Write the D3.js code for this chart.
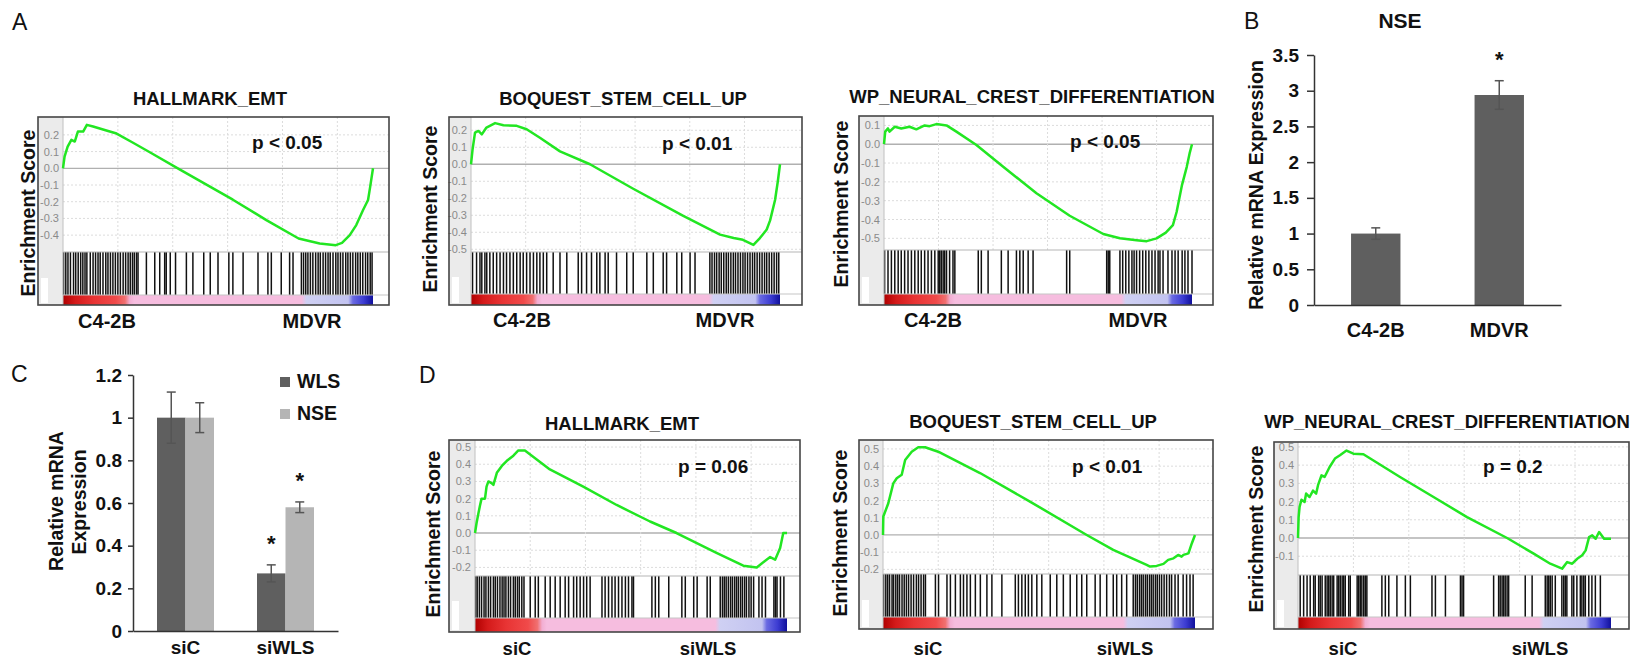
<!DOCTYPE html>
<html lang="en">
<head>
<meta charset="utf-8">
<title>GSEA and qPCR panels</title>
<script src="https://d3js.org/d3.v7.min.js"></script>
<style>
  body { margin: 0; background: #fff; }
  text { font-family: "Liberation Sans", Arial, sans-serif; }
</style>
</head>
<body>
<script>
var w = 1645, h = 665;

// ---------- GSEA data: [rank (per mille of ranked list), running ES] ----------
var gseaTitles = ["HALLMARK_EMT", "BOQUEST_STEM_CELL_UP", "WP_NEURAL_CREST_DIFFERENTIATION",
                  "HALLMARK_EMT", "BOQUEST_STEM_CELL_UP", "WP_NEURAL_CREST_DIFFERENTIATION"];
var gseaPvals = ["p < 0.05", "p < 0.01", "p < 0.05", "p = 0.06", "p < 0.01", "p = 0.2"];
var gseaGroups = [["C4-2B", "MDVR"], ["C4-2B", "MDVR"], ["C4-2B", "MDVR"],
                  ["siC", "siWLS"], ["siC", "siWLS"], ["siC", "siWLS"]];

var esA1 = [[0,0],[5,0.07],[15,0.13],[27,0.17],[38,0.16],[48,0.22],[65,0.22],[77,0.26],[97,0.25],[140,0.226],[170,0.21],[226,0.153],[280,0.096],[376,-0.006],[548,-0.188],[656,-0.31],[760,-0.42],[828,-0.45],[880,-0.46],[900,-0.446],[925,-0.40],[946,-0.34],[968,-0.25],[984,-0.19],[991,-0.11],[1000,0]];
var esA2 = [[0,0],[5,0.086],[13,0.186],[24,0.196],[35,0.176],[50,0.216],[78,0.242],[105,0.23],[148,0.226],[180,0.206],[223,0.156],[288,0.076],[385,0],[525,-0.144],[687,-0.304],[806,-0.414],[850,-0.434],[880,-0.444],[914,-0.474],[935,-0.434],[957,-0.384],[968,-0.33],[984,-0.21],[993,-0.1],[1000,0]];
var esA3 = [[0,0],[4,0.067],[13,0.084],[18,0.067],[35,0.093],[56,0.084],[83,0.093],[105,0.079],[132,0.10],[148,0.096],[170,0.107],[203,0.10],[235,0.067],[300,-0.004],[387,-0.12],[495,-0.26],[603,-0.38],[712,-0.477],[766,-0.50],[820,-0.51],[853,-0.515],[885,-0.50],[915,-0.47],[938,-0.43],[950,-0.36],[967,-0.22],[983,-0.12],[992,-0.05],[1000,0]];
var esD1 = [[0,0],[5,0.058],[11,0.115],[16,0.16],[21,0.2],[32,0.2],[37,0.27],[43,0.30],[53,0.29],[59,0.28],[70,0.35],[86,0.39],[102,0.42],[123,0.45],[139,0.48],[160,0.48],[240,0.37],[347,0.27],[454,0.163],[561,0.067],[646,0],[774,-0.115],[860,-0.19],[903,-0.2],[924,-0.17],[946,-0.14],[962,-0.155],[978,-0.087],[988,0],[1000,0]];
var esD2 = [[0,0],[1,0.107],[17,0.184],[33,0.30],[44,0.33],[60,0.35],[71,0.436],[92,0.484],[113,0.51],[135,0.51],[177,0.484],[311,0.36],[471,0.194],[653,0],[738,-0.087],[845,-0.174],[856,-0.184],[877,-0.18],[899,-0.168],[914,-0.145],[931,-0.136],[946,-0.116],[957,-0.126],[963,-0.116],[979,-0.107],[990,-0.048],[1000,0]];
var esD3 = [[0,0],[2,0.115],[5,0.17],[11,0.21],[21,0.198],[26,0.244],[37,0.225],[48,0.26],[58,0.244],[64,0.29],[75,0.344],[85,0.335],[101,0.39],[118,0.436],[134,0.454],[155,0.48],[177,0.463],[209,0.46],[326,0.335],[433,0.225],[540,0.115],[668,0],[753,-0.086],[806,-0.141],[844,-0.168],[860,-0.132],[876,-0.141],[892,-0.114],[908,-0.095],[919,-0.068],[930,0.005],[940,0.015],[951,-0.004],[962,0.033],[978,-0.004],[1000,-0.004]];

// gene-set hit positions (rank, per mille)
var hitsA1 = [2,9,16,24,34,41,49,57,64,71,77,88,97,105,113,120,129,138,145,153,161,169,177,185,194,202,210,217,224,230,237,242,269,296,312,328,333,346,363,398,419,454,475,500,535,548,581,629,661,672,704,731,742,769,776,783,790,798,806,815,823,830,839,847,855,862,871,880,887,895,903,912,919,927,935,944,951,959,967,976,983,991,997];
var hitsA2 = [5,18,29,35,45,51,61,72,83,94,105,115,126,137,148,159,169,180,191,202,213,223,234,245,266,288,310,347,358,374,390,407,417,434,444,471,504,525,569,590,622,633,666,682,709,725,773,780,788,795,803,810,818,826,833,841,849,856,864,872,880,887,895,903,911,918,926,934,942,950,957,965,973,981,989,996];
var hitsA3 = [2,13,24,35,46,56,67,78,89,100,111,121,132,143,154,165,176,181,186,192,197,203,213,224,230,306,316,338,381,403,430,441,452,468,484,593,603,723,728,733,766,775,785,795,805,812,820,830,840,850,860,870,880,890,896,906,922,935,945,955,968,977,987,1000];
var hitsD1 = [2,7,14,21,29,35,43,50,59,65,72,80,87,93,99,107,114,123,129,136,142,150,157,177,193,203,225,241,257,273,289,300,316,326,337,348,358,369,407,417,428,439,449,460,471,482,492,503,508,567,578,589,621,663,674,701,712,744,754,786,793,799,805,812,819,825,832,838,844,851,857,864,870,878,885,893,910,920,931,958,963,968,979,990];
var hitsD2 = [2,9,15,21,29,34,41,47,53,61,68,75,82,90,98,107,114,122,130,136,168,178,205,216,232,248,258,269,280,296,312,333,349,381,424,434,445,456,466,477,493,509,536,557,578,600,621,637,653,680,696,717,738,749,765,781,802,809,815,822,828,834,841,847,854,860,866,873,879,886,893,901,909,918,925,936,946,962,973,984,994];
var hitsD3 = [7,18,29,39,50,55,66,71,77,87,93,98,103,109,114,125,130,135,141,146,151,162,167,189,194,199,204,210,215,220,268,279,290,316,343,359,428,439,471,519,524,529,625,641,646,652,657,662,668,673,726,748,790,796,801,806,812,822,843,849,854,859,875,881,891,902,907,913,918,929,939,950,966];

// y tick labels of each GSEA panel
var ticksA1 = [0.2, 0.1, 0, -0.1, -0.2, -0.3, -0.4];
var ticksA2 = [0.2, 0.1, 0, -0.1, -0.2, -0.3, -0.4, -0.5];
var ticksA3 = [0.1, 0, -0.1, -0.2, -0.3, -0.4, -0.5];
var ticksD1 = [0.5, 0.4, 0.3, 0.2, 0.1, 0, -0.1, -0.2];
var ticksD2 = [0.5, 0.4, 0.3, 0.2, 0.1, 0, -0.1, -0.2];
var ticksD3 = [0.5, 0.4, 0.3, 0.2, 0.1, 0, -0.1];
var gridRanks = [177, 354, 531, 708, 885];

// ---------- panel B: NSE qPCR ----------
var nseCats = ["C4-2B", "MDVR"];
var nseMeans = [1.0, 2.94];
var nseErrs = [0.08, 0.2];
var nseSig = ["", "*"];
var nseTicks = [0, 0.5, 1, 1.5, 2, 2.5, 3, 3.5];

// ---------- panel C: siWLS knockdown ----------
var kdGroups = ["siC", "siWLS"];
var kdSeries = ["WLS", "NSE"];
var kdWlsMeans = [1.0, 0.27];
var kdWlsErrs = [0.12, 0.04];
var kdNseMeans = [1.0, 0.58];
var kdNseErrs = [0.07, 0.025];
var kdWlsSig = ["", "*"];
var kdNseSig = ["", "*"];
var kdTicks = [0, 0.2, 0.4, 0.6, 0.8, 1, 1.2];
var kdColors = ["#5f5f5f", "#b5b5b5"];

// ---------- layout ----------
var gseaLayout = [
  {left:38,  top:117, right:389,  bottom:305, inner:63,   end:373,  hitTop:252, cbTop:295, ymin:-0.501, ymax:0.307, tx:210,  ty:105, px:252,  py:149, lx:35,   ly:213, gy:328, g1:107,  g2:312},
  {left:449, top:117, right:802,  bottom:305, inner:471,  end:780,  hitTop:252, cbTop:294, ymin:-0.516, ymax:0.278, tx:623,  ty:105, px:662,  py:150, lx:437,  ly:209, gy:327, g1:522,  g2:725},
  {left:859, top:116, right:1213, bottom:305, inner:884,  end:1192, hitTop:250, cbTop:294, ymin:-0.562, ymax:0.150, tx:1032, ty:103, px:1070, py:148, lx:848,  ly:204, gy:327, g1:933,  g2:1138},
  {left:449, top:440, right:800,  bottom:632, inner:475,  end:787,  hitTop:576, cbTop:618, ymin:-0.250, ymax:0.541, tx:622,  ty:430, px:678,  py:473, lx:440,  ly:534, gy:655, g1:517,  g2:708},
  {left:859, top:440, right:1213, bottom:629, inner:883,  end:1195, hitTop:574, cbTop:617, ymin:-0.227, ymax:0.552, tx:1033, ty:428, px:1072, py:473, lx:847,  ly:533, gy:655, g1:928,  g2:1125},
  {left:1274,top:442, right:1629, bottom:629, inner:1298, end:1611, hitTop:575, cbTop:617, ymin:-0.203, ymax:0.527, tx:1447, ty:428, px:1483, py:473, lx:1263, ly:529, gy:655, g1:1343, g2:1540}
];

var svg = d3.select("body").append("svg")
  .attr("width", w)
  .attr("height", h);

// ranked-list colour bar
var grad = svg.append("defs").append("linearGradient").attr("id", "rankbar");
var gradStops = [[0,"#b00000"],[0.04,"#d41a1a"],[0.1,"#e83434"],[0.17,"#f04a4a"],[0.2,"#f07070"],[0.215,"#f2aed2"],[0.23,"#f6bddf"],
                 [0.77,"#f6bddf"],[0.785,"#cfd0f3"],[0.92,"#c2c3f0"],[0.935,"#6a6ae2"],[0.97,"#3c3cd2"],[1,"#10109c"]];
grad.selectAll("stop").data(gradStops).enter().append("stop")
  .attr("offset", function(d) { return d[0]; })
  .attr("stop-color", function(d) { return d[1]; });

function drawGsea(i, curve, hits, ticks) {
  var L = gseaLayout[i];
  var g = svg.append("g");
  var x = d3.scaleLinear().domain([0, 1000]).range([L.inner, L.end]);
  var y = d3.scaleLinear().domain([L.ymin, L.ymax]).range([L.hitTop, L.top]);

  g.append("rect").attr("x", L.left).attr("y", L.top)
    .attr("width", L.right - L.left).attr("height", L.bottom - L.top).attr("fill", "#fff");
  // grey strip at left
  g.append("rect").attr("x", L.left).attr("y", L.top)
    .attr("width", L.inner - L.left).attr("height", L.bottom - L.top).attr("fill", "#ebebeb");
  g.append("rect").attr("x", L.left + 3).attr("y", L.cbTop - 17)
    .attr("width", 7).attr("height", L.bottom - L.cbTop + 15).attr("fill", "#fff");

  // grid
  g.selectAll(".hg").data(ticks).enter().append("line")
    .attr("x1", L.inner).attr("x2", L.right)
    .attr("y1", function(d) { return y(d); }).attr("y2", function(d) { return y(d); })
    .attr("stroke", function(d) { return d === 0 ? "#b0b0b0" : "#dcdcdc"; })
    .attr("stroke-width", function(d) { return d === 0 ? 1.3 : 1; })
    .attr("stroke-dasharray", function(d) { return d === 0 ? null : "2,2"; });
  g.selectAll(".vg").data(gridRanks).enter().append("line")
    .attr("x1", function(d) { return x(d); }).attr("x2", function(d) { return x(d); })
    .attr("y1", L.top).attr("y2", L.hitTop)
    .attr("stroke", "#dcdcdc").attr("stroke-dasharray", "2,2");

  // axis labels of ES
  var ax = g.append("g").attr("transform", "translate(" + L.inner + ",0)")
    .call(d3.axisLeft(y).tickValues(ticks).tickSize(0).tickPadding(4)
      .tickFormat(function(d) { return d.toFixed(1); }));
  ax.select(".domain").remove();
  ax.selectAll("text").attr("fill", "#8a8a8a").attr("font-size", 11)
    .style("font-family", "'Liberation Sans', Arial, sans-serif");

  // hits
  g.selectAll(".hit").data(hits).enter().append("line")
    .attr("x1", function(d) { return x(d); }).attr("x2", function(d) { return x(d); })
    .attr("y1", L.hitTop).attr("y2", L.cbTop)
    .attr("stroke", "#111").attr("stroke-width", 1.5);

  // colour bar
  g.append("rect").attr("x", x(0)).attr("y", L.cbTop)
    .attr("width", x(1000) - x(0)).attr("height", L.bottom - L.cbTop)
    .attr("fill", "url(#rankbar)");

  g.append("line").attr("x1", L.inner).attr("x2", L.right).attr("y1", L.hitTop).attr("y2", L.hitTop)
    .attr("stroke", "#b5b5b5");
  g.append("line").attr("x1", L.inner).attr("x2", L.right).attr("y1", L.cbTop).attr("y2", L.cbTop)
    .attr("stroke", "#c5c5c5");
  g.append("line").attr("x1", L.inner).attr("x2", L.inner).attr("y1", L.top).attr("y2", L.bottom)
    .attr("stroke", "#c0c0c0");

  // running enrichment score
  g.append("path").datum(curve)
    .attr("d", d3.line().x(function(d) { return x(d[0]); }).y(function(d) { return y(d[1]); }))
    .attr("fill", "none").attr("stroke", "#22e622").attr("stroke-width", 2.5)
    .attr("stroke-linejoin", "round");

  g.append("rect").attr("x", L.left).attr("y", L.top)
    .attr("width", L.right - L.left).attr("height", L.bottom - L.top)
    .attr("fill", "none").attr("stroke", "#454545").attr("stroke-width", 1.6);

  g.append("text").attr("x", L.tx).attr("y", L.ty).attr("text-anchor", "middle")
    .attr("font-size", 18.5).attr("font-weight", "bold").attr("fill", "#111").text(gseaTitles[i]);
  g.append("text").attr("x", L.px).attr("y", L.py)
    .attr("font-size", 19).attr("font-weight", "bold").attr("fill", "#111").text(gseaPvals[i]);
  g.append("text").attr("transform", "translate(" + L.lx + "," + L.ly + ") rotate(-90)")
    .attr("text-anchor", "middle").attr("font-size", 19.5).attr("font-weight", "bold")
    .attr("fill", "#111").text("Enrichment Score");
  g.selectAll(".grp").data(gseaGroups[i]).enter().append("text")
    .attr("x", function(d, k) { return k === 0 ? L.g1 : L.g2; }).attr("y", L.gy)
    .attr("text-anchor", "middle").attr("font-size", i < 3 ? 20 : 18.5)
    .attr("font-weight", "bold").attr("fill", "#111").text(function(d) { return d; });
}

drawGsea(0, esA1, hitsA1, ticksA1);
drawGsea(1, esA2, hitsA2, ticksA2);
drawGsea(2, esA3, hitsA3, ticksA3);
drawGsea(3, esD1, hitsD1, ticksD1);
drawGsea(4, esD2, hitsD2, ticksD2);
drawGsea(5, esD3, hitsD3, ticksD3);

// panel letters
var letters = [["A", 12, 30], ["B", 1244, 29], ["C", 11, 382], ["D", 419, 383]];
svg.selectAll(".letter").data(letters).enter().append("text")
  .attr("x", function(d) { return d[1]; }).attr("y", function(d) { return d[2]; })
  .attr("font-size", 23).attr("fill", "#111").text(function(d) { return d[0]; });

// ---------- panel B ----------
var yB = d3.scaleLinear().domain([0, 3.5]).range([305, 55]);
var xB = d3.scaleBand().domain(nseCats).range([1314, 1561]).paddingInner(0.6).paddingOuter(0.3);
var gB = svg.append("g");

gB.selectAll(".bar").data(nseCats).enter().append("rect")
  .attr("x", function(d) { return xB(d); })
  .attr("y", function(d, i) { return yB(nseMeans[i]); })
  .attr("width", xB.bandwidth())
  .attr("height", function(d, i) { return yB(0) - yB(nseMeans[i]); })
  .attr("fill", "#5f5f5f");

function errBar(g, cx, yTop, yBot, cap) {
  g.append("line").attr("x1", cx).attr("x2", cx).attr("y1", yTop).attr("y2", yBot)
    .attr("stroke", "#555").attr("stroke-width", 1.5);
  [yTop, yBot].forEach(function(yy) {
    g.append("line").attr("x1", cx - cap).attr("x2", cx + cap).attr("y1", yy).attr("y2", yy)
      .attr("stroke", "#555").attr("stroke-width", 1.5);
  });
}

nseCats.forEach(function(c, i) {
  var cx = xB(c) + xB.bandwidth() / 2;
  errBar(gB, cx, yB(nseMeans[i] + nseErrs[i]), yB(nseMeans[i] - nseErrs[i]), 4.5);
  gB.append("text").attr("x", cx).attr("y", yB(nseMeans[i] + nseErrs[i]) - 14)
    .attr("text-anchor", "middle").attr("font-size", 22).attr("font-weight", "bold")
    .attr("fill", "#111").text(nseSig[i]);
});

var axB = gB.append("g").attr("transform", "translate(1314,0)")
  .call(d3.axisLeft(yB).tickValues(nseTicks).tickSize(7).tickSizeOuter(0).tickPadding(8)
    .tickFormat(function(d) { return String(d); }));
var axBx = gB.append("g").attr("transform", "translate(0,305)")
  .call(d3.axisBottom(xB).tickSize(0).tickSizeOuter(0).tickPadding(18));
[axB, axBx].forEach(function(a) {
  a.selectAll("path, line").attr("stroke", "#333").attr("stroke-width", 1.5);
  a.selectAll("text").attr("font-size", 19).attr("font-weight", "bold").attr("fill", "#111")
    .style("font-family", "'Liberation Sans', Arial, sans-serif");
});
axBx.selectAll("text").attr("font-size", 20);

gB.append("text").attr("transform", "translate(1263,185) rotate(-90)").attr("text-anchor", "middle")
  .attr("font-size", 19.5).attr("font-weight", "bold").attr("fill", "#111").text("Relative mRNA Expression");
gB.append("text").attr("x", 1400).attr("y", 28).attr("text-anchor", "middle")
  .attr("font-size", 21).attr("font-weight", "bold").attr("fill", "#111").text("NSE");

// ---------- panel C ----------
var yC = d3.scaleLinear().domain([0, 1.2]).range([631, 375]);
var xC = d3.scaleBand().domain(kdGroups).range([133, 338]).paddingInner(0.43).paddingOuter(0.24);
var xC1 = d3.scaleBand().domain(kdSeries).range([0, xC.bandwidth()]);
var gC = svg.append("g");

var kdRows = [];
kdGroups.forEach(function(g, i) {
  kdRows.push({group: g, series: "WLS", mean: kdWlsMeans[i], err: kdWlsErrs[i], sig: kdWlsSig[i]});
  kdRows.push({group: g, series: "NSE", mean: kdNseMeans[i], err: kdNseErrs[i], sig: kdNseSig[i]});
});

gC.selectAll(".bar").data(kdRows).enter().append("rect")
  .attr("x", function(d) { return xC(d.group) + xC1(d.series); })
  .attr("y", function(d) { return yC(d.mean); })
  .attr("width", xC1.bandwidth())
  .attr("height", function(d) { return yC(0) - yC(d.mean); })
  .attr("fill", function(d) { return kdColors[kdSeries.indexOf(d.series)]; });

kdRows.forEach(function(d) {
  var cx = xC(d.group) + xC1(d.series) + xC1.bandwidth() / 2;
  errBar(gC, cx, yC(d.mean + d.err), yC(d.mean - d.err), 4.5);
  gC.append("text").attr("x", cx).attr("y", yC(d.mean + d.err) - 14)
    .attr("text-anchor", "middle").attr("font-size", 22).attr("font-weight", "bold")
    .attr("fill", "#111").text(d.sig);
});

var axC = gC.append("g").attr("transform", "translate(133,0)")
  .call(d3.axisLeft(yC).tickValues(kdTicks).tickSize(5).tickSizeOuter(0).tickPadding(6)
    .tickFormat(function(d) { return String(d); }));
var axCx = gC.append("g").attr("transform", "translate(0,631)")
  .call(d3.axisBottom(xC).tickSize(0).tickSizeOuter(0).tickPadding(10));
[axC, axCx].forEach(function(a) {
  a.selectAll("path, line").attr("stroke", "#333").attr("stroke-width", 1.5);
  a.selectAll("text").attr("font-size", 19).attr("font-weight", "bold").attr("fill", "#111")
    .style("font-family", "'Liberation Sans', Arial, sans-serif");
});

gC.append("text").attr("transform", "translate(63,501) rotate(-90)").attr("text-anchor", "middle")
  .attr("font-size", 19.5).attr("font-weight", "bold").attr("fill", "#111").text("Relative mRNA");
gC.append("text").attr("transform", "translate(86,502) rotate(-90)").attr("text-anchor", "middle")
  .attr("font-size", 19.5).attr("font-weight", "bold").attr("fill", "#111").text("Expression");

var legC = gC.selectAll(".leg").data(kdSeries).enter().append("g")
  .attr("transform", function(d, i) { return "translate(280," + (377 + i * 32) + ")"; });
legC.append("rect").attr("width", 10).attr("height", 10)
  .attr("fill", function(d, i) { return kdColors[i]; });
legC.append("text").attr("x", 17).attr("y", 11).attr("font-size", 19.5).attr("font-weight", "bold")
  .attr("fill", "#111").text(function(d) { return d; });
</script>
</body>
</html>
